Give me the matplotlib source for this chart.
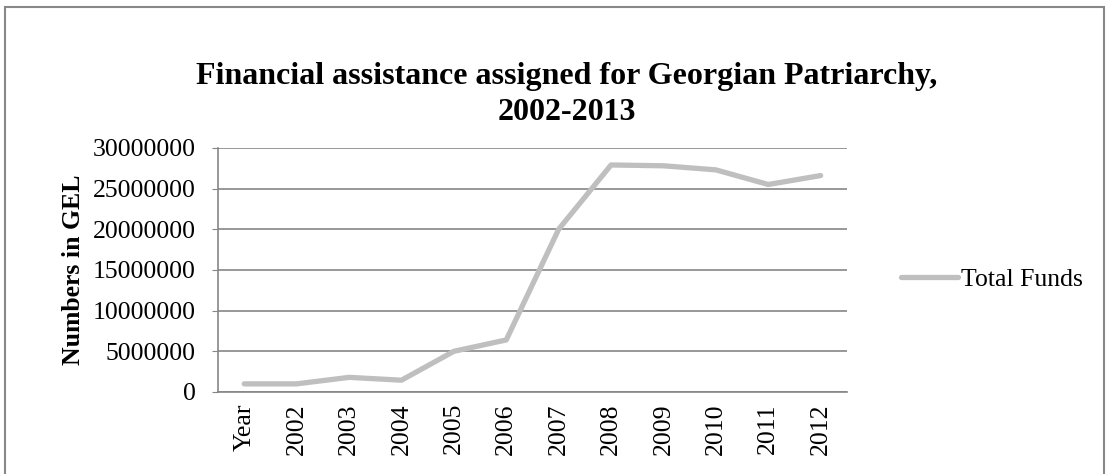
import matplotlib.pyplot as plt
from matplotlib.patches import Rectangle

# data
categories = ["Year", "2002", "2003", "2004", "2005", "2006",
              "2007", "2008", "2009", "2010", "2011", "2012"]
total_funds = [1000000, 1000000, 1800000, 1450000, 5000000, 6400000,
               20000000, 27900000, 27800000, 27300000, 25500000, 26600000]
y_ticks = [0, 5000000, 10000000, 15000000, 20000000, 25000000, 30000000]

plt.rcParams['font.family'] = ['Liberation Serif', 'DejaVu Serif']

fig = plt.figure(figsize=(11.07, 4.74), dpi=100)
ax = fig.add_axes([0.197, 0.173, 0.568, 0.515])

x = list(range(len(categories)))
ax.plot(x, total_funds, color="#BFBFBF", lw=3.8, solid_capstyle="round",
        solid_joinstyle="round", label="Total Funds")

ax.set_xlim(-0.5, len(categories) - 0.5)
ax.set_ylim(0, 30000000)
ax.set_yticks(y_ticks)
ax.set_yticklabels([str(v) for v in y_ticks], fontsize=18.5)
ax.set_xticks(x)
ax.set_xticklabels(categories, rotation=90, fontsize=18.5)
ax.tick_params(axis="x", length=0, pad=8)
ax.tick_params(axis="y", length=4, color="#868686", pad=12)
ax.grid(axis="y", color="#868686", lw=1.2)
ax.set_axisbelow(True)
for side in ("top", "right"):
    ax.spines[side].set_visible(False)
for side in ("left", "bottom"):
    ax.spines[side].set_color("#868686")
    ax.spines[side].set_linewidth(1.2)

fig.text(0.066, 0.43, "Numbers in GEL", rotation=90, fontsize=18.5,
         fontweight="bold", ha="center", va="center")
fig.text(0.512, 0.80, "Financial assistance assigned for Georgian Patriarchy,\n2002-2013",
         fontsize=23, fontweight="bold", ha="center", va="center", linespacing=1.3)

fig.legend(loc="center left", bbox_to_anchor=(0.805, 0.41), frameon=False,
           fontsize=18.5, handlelength=2.2, handletextpad=0.1, borderaxespad=0)

fig.patches.append(Rectangle((0.0045, -0.01), 0.993, 0.995, transform=fig.transFigure,
                             fill=False, edgecolor="#888888", lw=1.5))

fig.savefig("out.png", dpi=100)
